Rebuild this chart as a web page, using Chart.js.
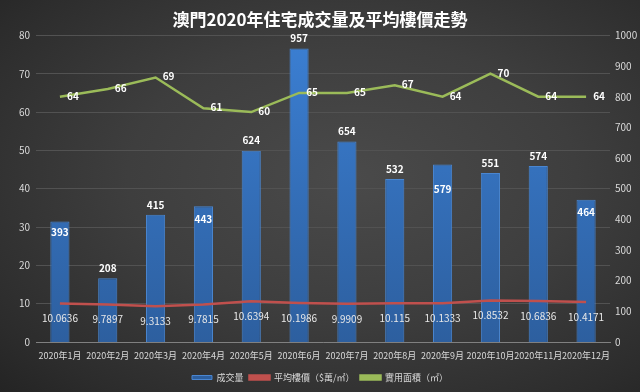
<!DOCTYPE html>
<html>
<head>
<meta charset="utf-8">
<script src="https://cdn.jsdelivr.net/npm/chart.js@4.4.0/dist/chart.umd.min.js"></script>
<style>
  html, body { margin: 0; padding: 0; }
  body {
    width: 640px; height: 392px; overflow: hidden;
    background: radial-gradient(ellipse at 55% 45%, #4a4a4a 0%, #3e3e3e 45%, #2c2c2c 85%, #242424 100%);
  }
  #wrap { width: 640px; height: 392px; position: relative; }
</style>
</head>
<body>
<div id="wrap"><canvas id="grafico"></canvas></div>
<script>
const meses = ["2020年1月","2020年2月","2020年3月","2020年4月","2020年5月","2020年6月",
  "2020年7月","2020年8月","2020年9月","2020年10月","2020年11月","2020年12月"];
const volumen = [393, 208, 415, 443, 624, 957, 654, 532, 579, 551, 574, 464];
const precio = [10.0636, 9.7897, 9.3133, 9.7815, 10.6394, 10.1986, 9.9909, 10.115, 10.1333, 10.8532, 10.6836, 10.4171];
const area = [64, 66, 69, 61, 60, 65, 65, 67, 64, 70, 64, 64];

// donde va la etiqueta de cada barra respecto a su tope (negativo = encima)
const barLabelDy = [11, -10, -10, 13, -10, -10, -10, -10, 25, -10, -10, 12];

const fuente = "'Noto Sans CJK TC', 'Noto Sans', sans-serif";

const etiquetas = {
  id: "etiquetas",
  afterDatasetsDraw(chart) {
    const ctx = chart.ctx;
    ctx.save();
    ctx.textAlign = "center";
    ctx.textBaseline = "middle";
    ctx.fillStyle = "#ffffff";

    ctx.font = "bold 10px " + fuente;
    chart.getDatasetMeta(0).data.forEach((el, i) => {
      ctx.fillText(volumen[i], el.x, el.y + barLabelDy[i]);
    });

    ctx.font = "10px " + fuente;
    ctx.fillStyle = "#e8e8e8";
    chart.getDatasetMeta(1).data.forEach((el, i) => {
      ctx.fillText(precio[i], el.x, el.y + 15);
    });

    ctx.font = "bold 10px " + fuente;
    ctx.fillStyle = "#ffffff";
    chart.getDatasetMeta(2).data.forEach((el, i) => {
      ctx.fillText(area[i], el.x + 13, el.y - 1);
    });
    ctx.restore();
  }
};

function degradado(context) {
  const chart = context.chart;
  const area = chart.chartArea;
  if (!area) return "#3a78c8";
  const g = chart.ctx.createLinearGradient(0, area.top, 0, area.bottom);
  g.addColorStop(0, "#3b7fd3");
  g.addColorStop(1, "#2d5f9f");
  return g;
}

const ctx = document.getElementById("grafico").getContext("2d");
new Chart(ctx, {
  data: {
    labels: meses,
    datasets: [
      {
        type: "bar",
        label: "成交量",
        data: volumen,
        yAxisID: "y1",
        backgroundColor: degradado,
        borderColor: "#4a86d0",
        borderWidth: 1,
        barPercentage: 0.4,
        categoryPercentage: 1,
        order: 2
      },
      {
        type: "line",
        label: "平均樓價（$萬/㎡）",
        data: precio,
        yAxisID: "y",
        borderColor: "#c0504d",
        backgroundColor: "#c0504d",
        borderWidth: 2.5,
        pointRadius: 0,
        tension: 0,
        order: 1
      },
      {
        type: "line",
        label: "實用面積（㎡）",
        data: area,
        yAxisID: "y",
        borderColor: "#9bbb59",
        backgroundColor: "#9bbb59",
        borderWidth: 2.5,
        pointRadius: 0,
        tension: 0,
        order: 1
      }
    ]
  },
  options: {
    responsive: true,
    maintainAspectRatio: false,
    animation: false,
    layout: { padding: { left: 0, right: 0, top: 0, bottom: 0 } },
    plugins: {
      tooltip: { enabled: false },
      title: {
        display: true,
        text: "澳門2020年住宅成交量及平均樓價走勢",
        color: "#ffffff",
        font: { family: fuente, size: 17, weight: "bold" },
        padding: { top: 9, bottom: 6 }
      },
      legend: {
        position: "bottom",
        labels: {
          color: "#d9d9d9",
          font: { family: fuente, size: 9 },
          boxWidth: 20,
          boxHeight: 4,
          padding: 6,
          sort: (a, b) => a.datasetIndex - b.datasetIndex
        }
      }
    },
    scales: {
      x: {
        offset: true,
        grid: { display: false },
        border: { color: "#808080", width: 1 },
        ticks: {
          color: "#d9d9d9",
          font: { family: fuente, size: 9 },
          maxRotation: 0,
          autoSkip: false,
          padding: 0
        },
        afterFit(scale) { scale.height = 25; }
      },
      y: {
        position: "left",
        min: 0,
        max: 80,
        ticks: { stepSize: 10, color: "#d9d9d9", font: { family: fuente, size: 10 }, padding: 6 },
        grid: { color: "#525252", drawTicks: false },
        border: { display: false },
        afterFit(scale) { scale.width = 36; }
      },
      y1: {
        position: "right",
        min: 0,
        max: 1000,
        ticks: {
          stepSize: 100,
          color: "#d9d9d9",
          font: { family: fuente, size: 10 },
          padding: 5,
          callback: (v) => String(v)
        },
        grid: { display: false, drawTicks: false },
        border: { display: false },
        afterFit(scale) { scale.width = 30; }
      }
    }
  },
  plugins: [etiquetas]
});
</script>
</body>
</html>
